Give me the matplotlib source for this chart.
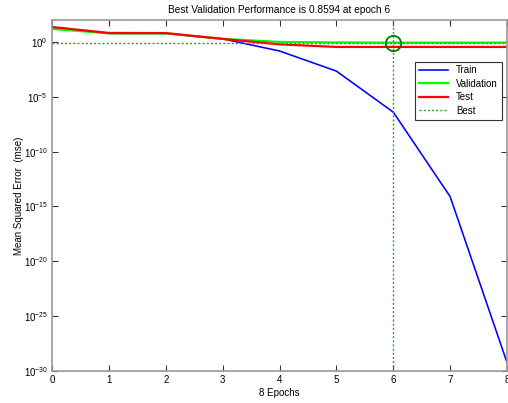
import matplotlib
matplotlib.use('Agg')
import matplotlib.pyplot as plt

plt.rcParams['font.family'] = ['Liberation Sans', 'DejaVu Sans']
plt.rcParams['mathtext.fontset'] = 'custom'
plt.rcParams['mathtext.rm'] = 'Liberation Sans'

epochs = [0, 1, 2, 3, 4, 5, 6, 7, 8]
train = [21, 6.0, 6.0, 1.9, 0.15, 2.2e-3, 4e-7, 8e-15, 6e-30]
validation = [15.5, 6.0, 6.0, 1.9, 1.0, 0.9, 0.8594, 0.87, 0.87]
test = [23, 6.6, 6.4, 1.9, 0.6, 0.35, 0.35, 0.35, 0.35]
best_epoch = 6
best_perf = 0.8594
ytick_exp = [0, -5, -10, -15, -20, -25, -30]

fig = plt.figure(figsize=(5.08, 4.03), dpi=100)
ax = fig.add_axes([52 / 508, 1 - 371 / 403, 455 / 508, 351 / 403])

ax.semilogy(epochs, train, color='#0000ff', lw=1.15, label='Train')
ax.semilogy(epochs, validation, color='#00ff00', lw=1.6, label='Validation')
ax.semilogy(epochs, test, color='#ff0000', lw=1.6, label='Test')
ax.axhline(best_perf, color='#339933', ls=(0, (1.5, 1.5)), lw=1)
ax.axvline(best_epoch, color='#339933', ls=(0, (1.5, 1.5)), lw=1,
           label='Best')
ax.plot([best_epoch], [best_perf], 'o', mfc='none', mec='#007700',
        ms=11, mew=1.3)

ax.set_xlim(0, 8)
ax.set_ylim(1e-30, 1e2)
ax.set_xticks(epochs)
ax.set_yticks([10.0 ** e for e in ytick_exp])
ax.set_yticklabels(['$10^{%d}$' % e for e in ytick_exp])
ax.minorticks_off()
ax.tick_params(direction='in', top=True, right=True, labelsize=7,
               length=4, width=0.8, color='#333333', pad=3)
for s in ax.spines.values():
    s.set_color('#999999')
    s.set_linewidth(1.2)

ax.set_title('Best Validation Performance is 0.8594 at epoch 6',
             fontsize=7.3, pad=5)
ax.set_xlabel('8 Epochs', fontsize=7, labelpad=2)
ax.set_ylabel('Mean Squared Error  (mse)', fontsize=7, labelpad=0)

leg = ax.legend(loc='upper right', bbox_to_anchor=(0.995, 0.89),
                fontsize=7, fancybox=False, framealpha=1,
                edgecolor='#333333', handlelength=3.0,
                borderaxespad=0.3, labelspacing=0.35)
leg.get_frame().set_linewidth(0.8)

fig.savefig('out.png', dpi=100)
